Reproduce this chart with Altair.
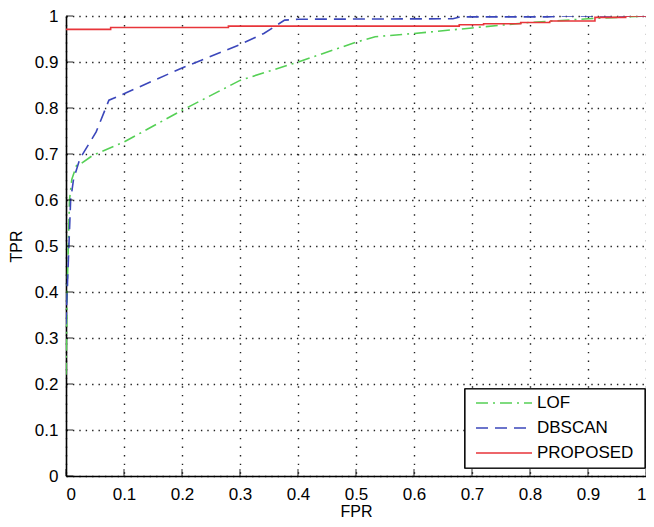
import altair as alt
import pandas as pd

# ---- data ----
lof_fpr = [0.0, 0.002, 0.004, 0.006, 0.010, 0.018, 0.026, 0.046, 0.10, 0.20, 0.30, 0.40, 0.50, 0.533, 0.60, 0.70, 0.80, 0.90, 1.0]
lof_tpr = [0.22, 0.40, 0.50, 0.60, 0.645, 0.675, 0.679, 0.697, 0.726, 0.795, 0.86, 0.90, 0.943, 0.955, 0.962, 0.974, 0.986, 0.994, 1.0]

dbscan_fpr = [0.0, 0.002, 0.005, 0.008, 0.013, 0.024, 0.052, 0.074, 0.10, 0.20, 0.30, 0.341, 0.377, 0.40, 0.667, 0.68, 0.83, 0.85, 1.0]
dbscan_tpr = [0.33, 0.40, 0.50, 0.60, 0.645, 0.69, 0.748, 0.817, 0.831, 0.887, 0.938, 0.962, 0.991, 0.993, 0.994, 0.998, 0.998, 1.0, 1.0]

proposed_fpr = [0.0, 0.077, 0.077, 0.28, 0.28, 0.678, 0.678, 0.72, 0.72, 0.784, 0.784, 0.834, 0.834, 0.912, 0.912, 0.965, 0.965, 1.0]
proposed_tpr = [0.971, 0.971, 0.975, 0.975, 0.978, 0.978, 0.981, 0.981, 0.983, 0.983, 0.986, 0.986, 0.989, 0.989, 0.997, 0.997, 1.0, 1.0]

series_names = ["LOF", "DBSCAN", "PROPOSED"]
series_colors = ["#55d055", "#3b47bb", "#e8353a"]
series_dashes = [[12, 5, 2, 5], [12, 7], [1, 0]]

tick_values = [0, 0.1, 0.2, 0.3, 0.4, 0.5, 0.6, 0.7, 0.8, 0.9, 1.0]

rows = []
for name, fx, ty in [("LOF", lof_fpr, lof_tpr), ("DBSCAN", dbscan_fpr, dbscan_tpr), ("PROPOSED", proposed_fpr, proposed_tpr)]:
    for i, (a, b) in enumerate(zip(fx, ty)):
        rows.append({"series": name, "FPR": a, "TPR": b, "idx": i})
df = pd.DataFrame(rows)
ticks_df = pd.DataFrame({"v": tick_values})
legend_df = pd.DataFrame({"series": series_names})

W, H = 580, 460
FONT = "Liberation Sans"

xscale = alt.Scale(domain=[0, 1], nice=False, zero=False)
yscale = alt.Scale(domain=[0, 1], nice=False, zero=False)
color_scale = alt.Scale(domain=series_names, range=series_colors)
dash_scale = alt.Scale(domain=series_names, range=series_dashes)

lines = alt.Chart(df).mark_line(strokeWidth=1.6, clip=True).encode(
    x=alt.X("FPR:Q", scale=xscale, axis=alt.Axis(
        values=tick_values, format=".1~f", title="FPR",
        grid=True, gridDash=[1.4, 7.2], gridColor="#222", gridOpacity=1, gridWidth=1.4,
        ticks=False, labelPadding=10, titleX=W / 2, titleY=43, titleBaseline="bottom",
        titleAlign="center", titleFontSize=16)),
    y=alt.Y("TPR:Q", scale=yscale, axis=alt.Axis(
        values=tick_values, format=".1~f", title="TPR",
        grid=True, gridDash=[1.4, 5], gridColor="#222", gridOpacity=1, gridWidth=1.4,
        ticks=False, labelPadding=8, titleX=-50, titleY=H / 2, titleBaseline="middle",
        titleAlign="center", titleFontSize=16)),
    color=alt.Color("series:N", sort=series_names, scale=color_scale, legend=None),
    strokeDash=alt.StrokeDash("series:N", sort=series_names, scale=dash_scale, legend=None),
    order=alt.Order("idx:Q"),
)

xticks = alt.Chart(ticks_df).mark_tick(orient="vertical", size=7, thickness=1.2, color="black").encode(
    x=alt.X("v:Q", scale=xscale), y=alt.value(H - 3.5))
yticks = alt.Chart(ticks_df).mark_tick(orient="horizontal", size=7, thickness=1.2, color="black").encode(
    y=alt.Y("v:Q", scale=yscale, axis=None), x=alt.value(3.5))

# ---- legend drawn as marks ----
row_scale = alt.Scale(domain=series_names, range=[387, 437], type="point", padding=0)
legend_box = alt.Chart(legend_df).mark_rect(fill="white", stroke="black", strokeWidth=1.2).encode(
    x=alt.value(399), x2=alt.value(579), y=alt.value(373), y2=alt.value(452))
legend_lines = alt.Chart(legend_df).mark_rule(strokeWidth=1.6).encode(
    x=alt.value(410), x2=alt.value(466),
    y=alt.Y("series:N", scale=row_scale, axis=None),
    color=alt.Color("series:N", scale=color_scale, legend=None),
    strokeDash=alt.StrokeDash("series:N", scale=dash_scale, legend=None),
)
legend_text = alt.Chart(legend_df).mark_text(
    align="left", baseline="middle", font=FONT, fontSize=17, color="black").encode(
    x=alt.value(471),
    y=alt.Y("series:N", scale=row_scale, axis=None),
    text=alt.Text("series:N"),
)

chart = alt.layer(lines, xticks, yticks, legend_box, legend_lines, legend_text).resolve_scale(
    y="independent"
).properties(
    width=W, height=H,
    background="white",
    autosize=alt.AutoSizeParams(type="none"),
    padding={"left": 58, "top": 8, "right": 0, "bottom": 43},
).configure_view(stroke=None).configure_axis(
    labelFont=FONT, labelFontSize=17, labelColor="black",
    titleFont=FONT, titleFontSize=17, titleColor="black", titleFontWeight="normal",
    domainColor="black", domainWidth=1.6,
)

chart.save("out.html", embed_options={"renderer": "svg", "actions": False})
